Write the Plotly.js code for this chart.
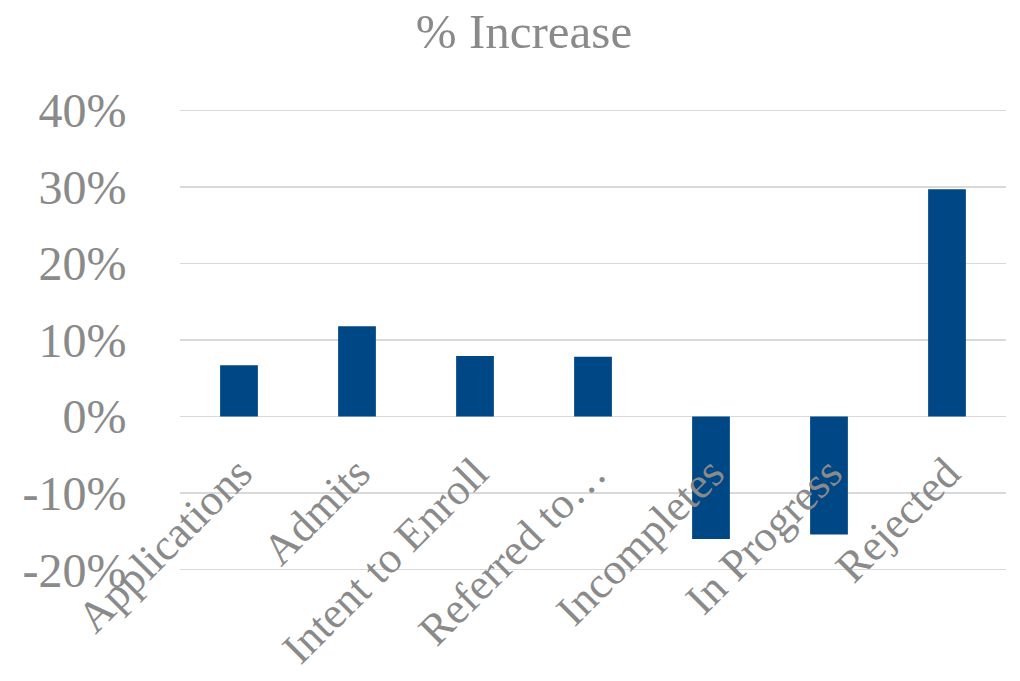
<!DOCTYPE html>
<html>
<head>
<meta charset="utf-8">
<script src="https://cdn.plot.ly/plotly-3.0.1.min.js"></script>
<style>html,body{margin:0;padding:0;background:#fff;}#chart{width:1020px;height:681px;}</style>
</head>
<body>
<div id="chart"></div>
<script>
const categories = ["Applications", "Admits", "Intent to Enroll", "Referred to…", "Incompletes", "In Progress", "Rejected"];
const pctIncrease = [6.7, 11.8, 7.9, 7.8, -16.0, -15.4, 29.7];
const yTickValues = [-20, -10, 0, 10, 20, 30, 40];
const yTickLabels = ["-20%", "-10%", "0%", "10%", "20%", "30%", "40%"];

const yMin = -20.3, yMax = 40.3;
const gray = "#8a8a8a";
const fontFam = "'Liberation Serif', 'DejaVu Serif', serif";

const trace = {
  type: "bar",
  x: categories,
  y: pctIncrease,
  marker: {color: "#004785"},
  hoverinfo: "skip"
};

const layout = {
  width: 1020,
  height: 681,
  margin: {l: 180, r: 14, t: 108, b: 109},
  paper_bgcolor: "#fff",
  plot_bgcolor: "#fff",
  showlegend: false,
  bargap: 0.68,
  title: {
    text: "% Increase",
    font: {family: fontFam, size: 49, color: gray},
    x: 524/1020, xref: "container", xanchor: "center",
    y: 1 - 31/681, yref: "container", yanchor: "middle"
  },
  xaxis: {
    type: "category",
    anchor: "free",
    position: (0 - yMin) / (yMax - yMin),
    showgrid: false,
    showline: false,
    zeroline: false,
    ticks: "outside",
    ticklen: 12,
    tickcolor: "rgba(0,0,0,0)",
    tickangle: -45,
    tickfont: {family: fontFam, size: 44, color: gray},
    automargin: false,
    fixedrange: true
  },
  yaxis: {
    range: [yMin, yMax],
    tickvals: yTickValues,
    ticktext: yTickLabels,
    showgrid: true,
    gridcolor: "#d9d9d9",
    gridwidth: 1.5,
    zeroline: true,
    zerolinecolor: "#d9d9d9",
    zerolinewidth: 1.5,
    showline: false,
    ticks: "outside",
    ticklen: 43,
    tickcolor: "rgba(0,0,0,0)",
    tickfont: {family: fontFam, size: 48, color: gray},
    automargin: false,
    fixedrange: true
  }
};

Plotly.newPlot("chart", [trace], layout, {displayModeBar: false, staticPlot: true});
</script>
</body>
</html>
